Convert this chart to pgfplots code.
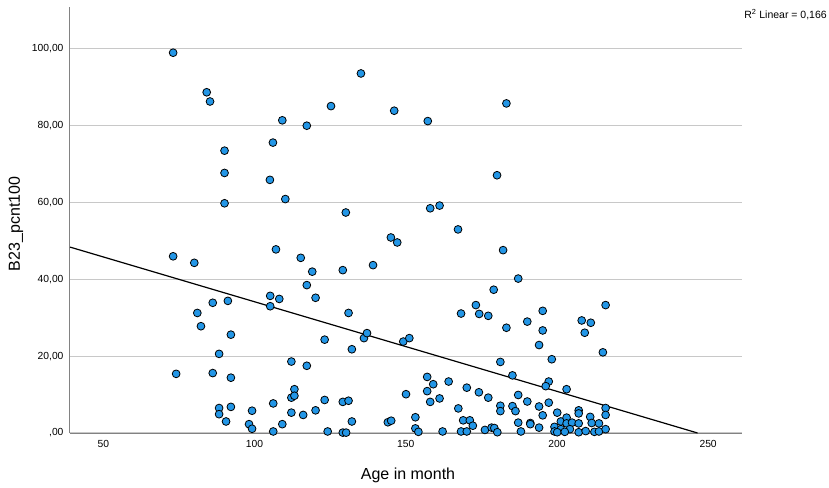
\documentclass[border=0pt]{standalone}
\usepackage{pgfplots}
\pgfplotsset{compat=1.18}
\usepackage{fontspec}
\setmainfont{Liberation Sans}
\definecolor{dotblue}{RGB}{35,150,230}
\definecolor{gridgray}{RGB}{200,200,200}
\definecolor{axgray}{RGB}{130,130,130}
\begin{document}
\begin{tikzpicture}
\begin{axis}[
  name=ax,
  at={(0,0)}, anchor=south west,
  scale only axis,
  width=672pt, height=426pt,
  xmin=39, xmax=261.2,
  ymin=0, ymax=110.9,
  axis x line=bottom, axis y line=left,
  axis line style={-, draw=axgray, line width=1pt},
  major tick length=0pt,
  xtick={50,100,150,200,250},
  xticklabels={50,100,150,200,250},
  ytick={0,20,40,60,80,100},
  yticklabels={{,00},{20,00},{40,00},{60,00},{80,00},{100,00}},
  ymajorgrids,
  grid style={draw=gridgray, line width=1.2pt},
  ticklabel style={font=\fontsize{10.3}{12}\selectfont, text=black},
  xticklabel style={yshift=-4pt},
  yticklabel style={xshift=-3pt},
  xlabel={Age in month},
  ylabel={B23\_pcnt100},
  label style={font=\fontsize{16}{18}\selectfont},
  xlabel style={at={(axis description cs:0.5,0)}, anchor=center, yshift=-42pt, xshift=2pt},
  ylabel style={at={(axis description cs:0,0.5)}, anchor=center, yshift=54pt, xshift=-4pt},
  clip=false,
]
\addplot[black, line width=1.2pt] coordinates {(39,48.4) (246.5,0)};
\addplot[only marks, mark=*, mark size=3.9pt, mark options={fill=dotblue, draw=black, line width=0.8pt}] coordinates {
(73.1,99.0) (84.2,88.7) (85.3,86.3) (135.2,93.6) (109.2,81.4) (117.3,80.0) (125.3,85.1) (146.2,83.9)
(90.1,73.5) (106.1,75.6) (90.1,67.7) (105.1,65.9) (90.1,59.8) (110.2,60.9) (130.2,57.4) (145.1,50.9)
(147.2,49.6) (183.3,85.8) (157.3,81.2) (180.2,67.1) (158.1,58.5) (161.2,59.2) (167.3,53.0)
(73.1,46.0) (80.1,44.3) (86.2,33.9) (91.2,34.4) (81.1,31.25) (82.3,27.8) (92.2,25.6) (88.3,20.6)
(74.1,15.4) (86.2,15.6) (92.2,14.4) (88.3,6.5) (88.3,4.9) (92.2,6.8) (99.2,5.8) (90.6,3.0)
(98.2,2.3) (99.2,1.1)
(107.1,47.8) (115.3,45.6) (119.1,42.0) (129.2,42.4) (139.2,43.7) (117.3,38.5) (105.2,35.7) (108.2,34.9)
(105.2,33.0) (120.2,35.2) (131.1,31.25) (123.2,24.3) (132.2,21.8) (136.2,24.7) (137.2,26.0) (149.2,23.8)
(151.2,24.7) (112.2,18.6) (117.3,17.5) (113.2,11.4) (112.2,9.2) (113.2,9.7) (106.2,7.7) (112.2,5.3)
(116.1,4.7) (120.2,5.9) (123.2,8.6) (129.2,8.1) (131.1,8.4) (109.2,2.3) (106.2,0.4) (124.2,0.4)
(129.2,0.1) (130.3,0.1) (132.2,3.0) (144.1,2.8) (145.2,3.2) (153.2,4.1) (153.2,1.2) (154.2,0.3)
(150.1,10.1) (157.1,14.6) (159.1,12.7) (157.1,10.9) (158.1,8.1) (161.2,9.0) (164.2,13.4) (162.2,0.4)
(182.2,47.6) (187.2,40.2) (179.1,37.3) (173.2,33.3) (168.3,31.1) (174.3,31.0) (177.3,30.5) (195.3,31.8)
(190.2,29.0) (183.3,27.4) (195.3,26.7) (194.1,22.9) (198.3,19.2) (208.2,29.3) (211.2,28.7) (209.2,26.1)
(181.3,18.5) (185.3,15.0) (197.3,13.4) (196.3,12.2) (203.2,11.4) (170.2,11.8) (174.2,10.6) (177.3,9.2)
(187.2,9.9) (190.2,8.2) (197.3,7.9) (167.4,6.4) (181.3,7.1) (181.3,5.7) (185.3,7.0) (186.3,5.7)
(194.1,6.9) (195.3,4.6) (200.1,5.3) (207.2,5.9) (207.2,5.1) (211.0,4.2) (169.0,3.3) (171.2,3.3)
(172.2,1.9) (168.3,0.4) (170.2,0.4) (176.2,0.8) (178.4,1.4) (179.3,1.3) (180.3,0.2) (187.2,2.7)
(191.2,2.6) (191.2,2.3) (188.1,0.4) (194.1,1.4) (199.2,1.6) (201.3,3.0) (203.2,4.0) (203.2,2.5)
(205.0,2.7) (207.2,2.5) (201.3,1.0) (204.3,1.0) (199.2,0.4) (200.1,0.2) (202.6,0.3) (207.2,0.2)
(209.5,0.5) (211.5,2.6) (212.4,0.3) (213.9,0.4)
(216.1,33.3) (215.2,21.0) (216.1,6.5) (216.1,4.7) (213.9,2.5) (216.1,1.0)
};
\end{axis}
\node[font=\fontsize{10.5}{12}\selectfont, text=black, anchor=center] at ([xshift=43.5pt, yshift=-8pt]ax.north east) {R\textsuperscript{2} Linear = 0,166};
\pgfresetboundingbox
\useasboundingbox ([xshift=-70pt, yshift=-54pt]ax.south west) rectangle ([xshift=87pt, yshift=7pt]ax.north east);
\end{tikzpicture}
\end{document}
